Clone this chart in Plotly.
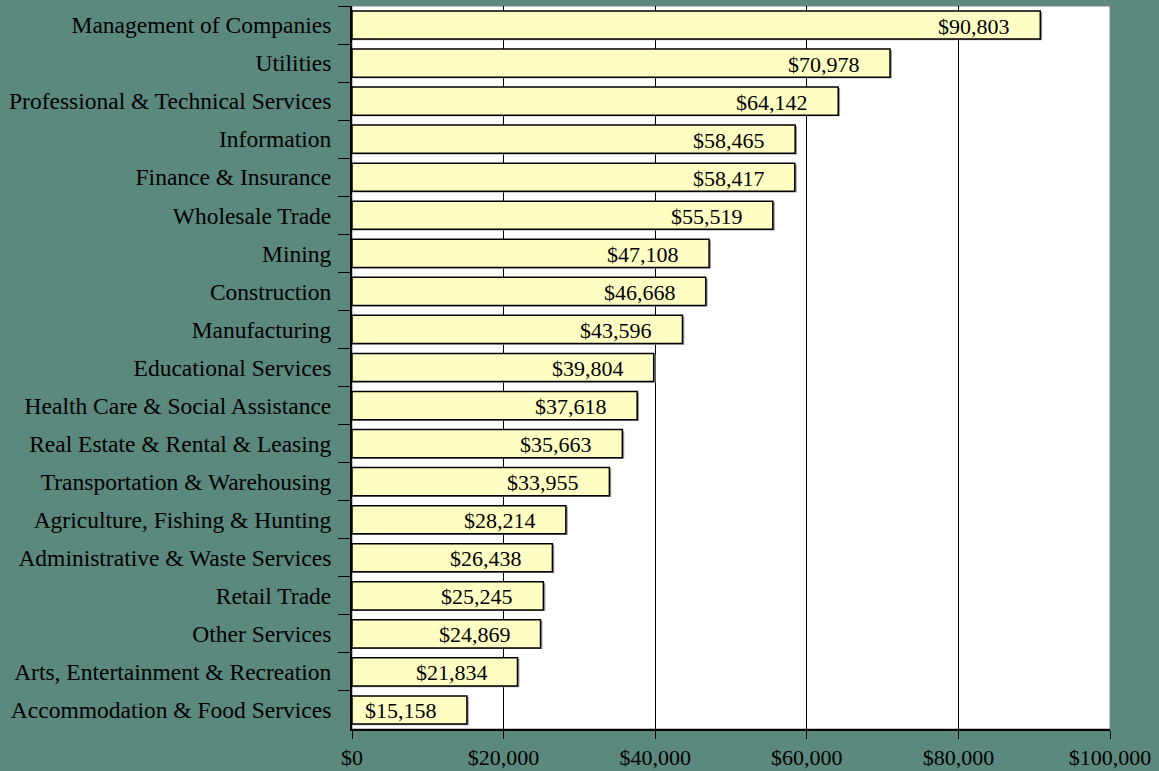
import plotly.graph_objects as go

categories = [
    "Management of Companies", "Utilities", "Professional & Technical Services",
    "Information", "Finance & Insurance", "Wholesale Trade", "Mining",
    "Construction", "Manufacturing", "Educational Services",
    "Health Care & Social Assistance", "Real Estate & Rental & Leasing",
    "Transportation & Warehousing", "Agriculture, Fishing & Hunting",
    "Administrative & Waste Services", "Retail Trade", "Other Services",
    "Arts, Entertainment & Recreation", "Accommodation & Food Services",
]
wages = [90803, 70978, 64142, 58465, 58417, 55519, 47108, 46668, 43596, 39804,
         37618, 35663, 33955, 28214, 26438, 25245, 24869, 21834, 15158]
tick_vals = [0, 20000, 40000, 60000, 80000, 100000]
tick_text = ["$0", "$20,000", "$40,000", "$60,000", "$80,000", "$100,000"]

BG = "#5B897E"
FONT = "Liberation Serif, Times New Roman, serif"

fig = go.Figure()
# subtle shadow
fig.add_trace(go.Bar(
    y=categories, x=[w + 250 for w in wages], orientation="h",
    marker=dict(color="#9a9a9a", line=dict(width=0)),
    width=0.74, offset=-0.34, hoverinfo="skip", showlegend=False,
))
fig.add_trace(go.Bar(
    y=categories, x=wages, orientation="h",
    marker=dict(color="#FFFFC4", line=dict(color="black", width=1.5)),
    width=0.74, offset=-0.37, showlegend=False,
))
for c, w in zip(categories, wages):
    fig.add_annotation(x=w, y=c, text=f"${w:,}", showarrow=False,
                       xanchor="right", xshift=-28, yshift=-1,
                       font=dict(family=FONT, size=22, color="black"))

fig.update_layout(
    width=1159, height=771,
    paper_bgcolor=BG, plot_bgcolor="white",
    margin=dict(l=352, r=49, t=6, b=42, autoexpand=False),
    barmode="overlay",
    font=dict(family=FONT, size=22, color="black"),
    shapes=[dict(type="rect", xref="paper", yref="paper", x0=0, x1=1, y0=0, y1=1,
                 line=dict(color="#808080", width=1), layer="below")],
)
fig.update_xaxes(
    range=[0, 100000], tickvals=tick_vals, ticktext=tick_text,
    showgrid=True, gridcolor="black", gridwidth=1,
    showline=True, linecolor="black", linewidth=2,
    ticks="outside", ticklen=8, tickcolor="black", tickwidth=1,
    tickfont=dict(family=FONT, size=22), zeroline=False, automargin=False,
)
fig.update_yaxes(
    autorange="reversed", type="category",
    showline=True, linecolor="black", linewidth=2,
    ticks="outside", tickson="boundaries", ticklen=12, tickcolor="black", tickwidth=1,
    tickfont=dict(family=FONT, size=23.5), showgrid=False, ticklabelstandoff=14,
    automargin=False,
)
fig.write_html("out.html", config={"displayModeBar": False})
with open("out.html", encoding="utf-8") as f:
    html = f.read()
html = html.replace("<head>", "<head><style>html,body{margin:0;padding:0;background:%s;}</style>" % BG, 1)
with open("out.html", "w", encoding="utf-8") as f:
    f.write(html)
